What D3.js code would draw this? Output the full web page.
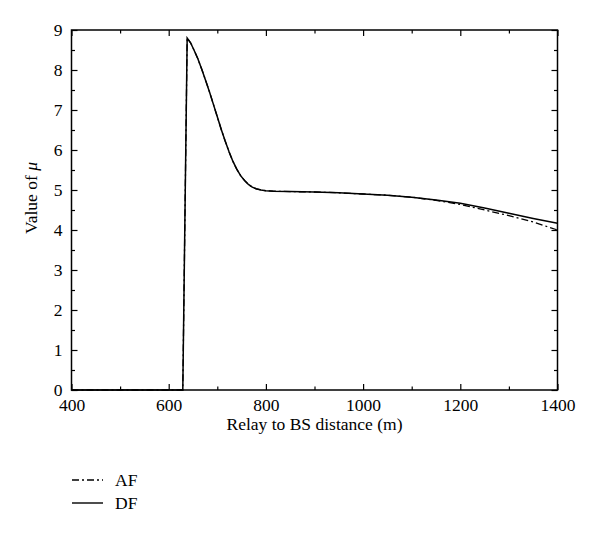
<!DOCTYPE html>
<html><head><meta charset="utf-8">
<script src="https://cdn.jsdelivr.net/npm/d3@7"></script>
<style>body{margin:0;background:#fff}</style>
</head><body>
<svg id="c" width="600" height="533"></svg>
<script>
const xValues = [400, 629, 638, 645, 652, 660, 668, 676, 684, 692, 700, 708, 716, 724, 732, 740, 748, 756, 764, 772, 780, 790, 800, 815, 850, 900, 950, 1000, 1050, 1100, 1150, 1200, 1250, 1300, 1350, 1400];
const dfValues = [0, 0, 8.8, 8.68, 8.5, 8.28, 8.02, 7.74, 7.45, 7.14, 6.83, 6.52, 6.23, 5.96, 5.72, 5.52, 5.36, 5.24, 5.14, 5.07, 5.03, 5.0, 4.98, 4.97, 4.96, 4.95, 4.93, 4.9, 4.87, 4.82, 4.75, 4.67, 4.55, 4.42, 4.29, 4.17];
const afValues = [0, 0, 8.8, 8.68, 8.5, 8.28, 8.02, 7.74, 7.45, 7.14, 6.83, 6.52, 6.23, 5.96, 5.72, 5.52, 5.36, 5.24, 5.14, 5.07, 5.03, 5.0, 4.98, 4.97, 4.96, 4.95, 4.93, 4.9, 4.87, 4.82, 4.74, 4.64, 4.5, 4.36, 4.2, 4.0];
const xTicks = [400, 600, 800, 1000, 1200, 1400];
const xMinor = [500, 700, 900, 1100, 1300];
const yTicks = [0, 1, 2, 3, 4, 5, 6, 7, 8, 9];
const yMinor = [0.5, 1.5, 2.5, 3.5, 4.5, 5.5, 6.5, 7.5, 8.5];
const seriesNames = ["AF", "DF"];

const svg = d3.select("#c");
const L = 71.5, R = 557.5, T = 30, B = 390;
const x = d3.scaleLinear().domain([400, 1400]).range([L, R]);
const y = d3.scaleLinear().domain([0, 9]).range([B, T]);
const font = "'Liberation Serif', 'Times New Roman', serif";
const fs = 17.5;

function ax(axisGen, tr, ticks, size, labels) {
  const g = svg.append("g").attr("transform", tr)
    .call(axisGen.tickValues(ticks).tickSize(size).tickFormat(labels ? d3.format("d") : ""));
  g.select(".domain").remove();
  g.selectAll("line").attr("stroke", "#000").attr("stroke-width", 1.2);
  g.selectAll("text").attr("font-family", font).attr("font-size", fs).attr("fill", "#000");
  return g;
}
ax(d3.axisTop(x), `translate(0,${B})`, xTicks, 6, false);
ax(d3.axisTop(x), `translate(0,${B})`, xMinor, 3.5, false);
ax(d3.axisBottom(x), `translate(0,${T})`, xTicks, 6, false);
ax(d3.axisBottom(x), `translate(0,${T})`, xMinor, 3.5, false);
ax(d3.axisRight(y), `translate(${L},0)`, yTicks, 6, false);
ax(d3.axisRight(y), `translate(${L},0)`, yMinor, 3.5, false);
ax(d3.axisLeft(y), `translate(${R},0)`, yTicks, 6, false);
ax(d3.axisLeft(y), `translate(${R},0)`, yMinor, 3.5, false);
const xl = ax(d3.axisBottom(x).tickSize(0).tickPadding(9), `translate(0,${B})`, xTicks, 0, true);
xl.selectAll("line").remove();
const yl = ax(d3.axisLeft(y).tickSize(0).tickPadding(9), `translate(${L},0)`, yTicks, 0, true);
yl.selectAll("line").remove();

svg.append("rect").attr("x", L).attr("y", T).attr("width", R - L).attr("height", B - T)
  .attr("fill", "none").attr("stroke", "#000").attr("stroke-width", 1.5);

const line = d3.line().x((d, i) => x(xValues[i])).y(d => y(d));
svg.append("path").datum(afValues).attr("d", line).attr("fill", "none")
  .attr("stroke", "#000").attr("stroke-width", 1.3).attr("stroke-dasharray", "7,3,2,3");
svg.append("path").datum(dfValues).attr("d", line).attr("fill", "none")
  .attr("stroke", "#000").attr("stroke-width", 1.5);

svg.append("text").attr("x", (L + R) / 2).attr("y", 429.5).attr("text-anchor", "middle")
  .attr("font-family", font).attr("font-size", fs).text("Relay to BS distance (m)");
const yt = svg.append("text").attr("transform", `translate(37,198) rotate(-90)`)
  .attr("text-anchor", "middle").attr("font-family", font).attr("font-size", fs);
yt.append("tspan").text("Value of ");
yt.append("tspan").attr("font-style", "italic").text("μ");

const leg = [{n: seriesNames[0], dash: "7,3,2,3", yy: 480}, {n: seriesNames[1], dash: null, yy: 503}];
leg.forEach(d => {
  svg.append("line").attr("x1", 72).attr("x2", 103).attr("y1", d.yy).attr("y2", d.yy)
    .attr("stroke", "#000").attr("stroke-width", 1.4).attr("stroke-dasharray", d.dash);
  svg.append("text").attr("x", 115).attr("y", d.yy + 5.5).attr("font-family", font)
    .attr("font-size", fs).text(d.n);
});
</script>
</body></html>
